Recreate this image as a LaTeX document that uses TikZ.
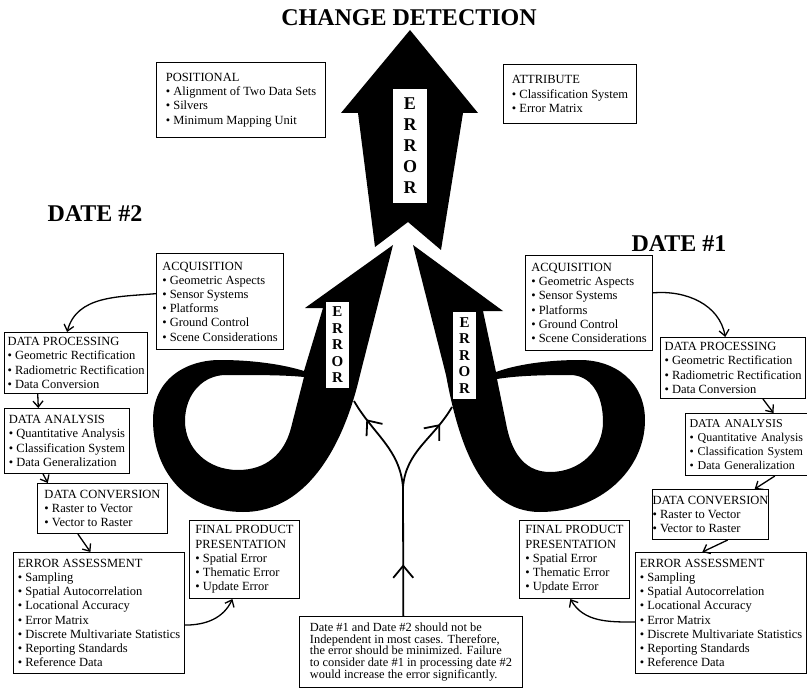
\documentclass[tikz,border=0pt]{standalone}
\usepackage{fontspec}
\setmainfont{Liberation Serif}
\usetikzlibrary{positioning, arrows.meta, decorations.markings}

\newcommand{\bult}{\textbullet\ }
\newcommand{\acqlist}{ACQUISITION\\ \bult Geometric Aspects\\ \bult Sensor Systems\\ \bult Platforms\\ \bult Ground Control\\ \bult Scene Considerations}
\newcommand{\proclist}{DATA PROCESSING\\ \bult Geometric Rectification\\ \bult Radiometric Rectification\\ \bult Data Conversion}
\newcommand{\analist}{DATA ANALYSIS\\ \bult Quantitative Analysis\\ \bult Classification System\\ \bult Data Generalization}
\newcommand{\convlist}{DATA CONVERSION\\ \bult Raster to Vector\\ \bult Vector to Raster}
\newcommand{\assesslist}{ERROR ASSESSMENT\\ \bult Sampling\\ \bult Spatial Autocorrelation\\ \bult Locational Accuracy\\ \bult Error Matrix\\ \bult Discrete Multivariate Statistics\\ \bult Reporting Standards\\ \bult Reference Data}
\newcommand{\finallist}{FINAL PRODUCT\\ PRESENTATION\\ \bult Spatial Error\\ \bult Thematic Error\\ \bult Update Error}

\begin{document}
\begin{tikzpicture}[x=1pt, y=-1pt,
    box/.style={rectangle, draw, line width=1pt, fill=white, align=left, anchor=north west, inner sep=0pt, font=\fontsize{12.5}{14.2}\selectfont},
    wh/.style 2 args={minimum width=#1, minimum height=#2},
    err/.style={rectangle, fill=white, inner sep=0pt, align=center},
    head/.style={font=\bfseries\fontsize{24}{24}\selectfont},
    conn/.style={line width=1.3pt, -{Straight Barb[length=6pt, width=10pt]}},
    flow/.style={line width=1.8pt},
    midarrow/.style={postaction={decorate}, decoration={markings, mark=at position #1 with {\arrow{Straight Barb[length=12pt, width=20pt]}}}},
]
    \useasboundingbox (0,0) rectangle (807,690);

    % Error arrows
    \fill (410,30) -- (478,113) -- (463,113) -- (441,250) -- (408,222) -- (375,247) -- (358,113) -- (341,113) -- cycle;

    \fill[even odd rule] (393,245) -- (360,375) .. controls (345,440) and (310,512) .. (243,512)
        .. controls (185,512) and (153,470) .. (153,420) .. controls (153,380) and (185,360) .. (220,360)
        .. controls (255,360) and (285,365) .. (304,371) -- (323,308) -- (305,308) -- cycle
        (304,377) -- (291,428) .. controls (284,455) and (265,470) .. (238,470)
        .. controls (207,470) and (185,448) .. (185,421) .. controls (185,394) and (203,375) .. (226,375)
        .. controls (258,375) and (285,375) .. (304,377) -- cycle;

    \fill[even odd rule] (413,245) -- (446,375) .. controls (458,440) and (480,512) .. (540,512)
        .. controls (600,512) and (645,470) .. (645,420) .. controls (645,382) and (615,360) .. (580,360)
        .. controls (545,360) and (515,365) .. (496,372) -- (483,311) -- (503,311) -- cycle
        (497,379) -- (507,428) .. controls (513,456) and (527,472) .. (550,472)
        .. controls (580,472) and (603,450) .. (603,422) .. controls (603,393) and (590,375) .. (570,375)
        .. controls (538,375) and (515,376) .. (497,379) -- cycle;

    \node[err, minimum width=34pt, minimum height=114pt, font=\bfseries\fontsize{18}{21}\selectfont] (errc) at (410,146) {E\\R\\R\\O\\R};
    \node[err, minimum width=23pt, minimum height=86pt, font=\bfseries\fontsize{15}{16.5}\selectfont] (err2) at (337.5,345) {E\\R\\R\\O\\R};
    \node[err, minimum width=23pt, minimum height=87pt, font=\bfseries\fontsize{15}{16.5}\selectfont] (err1) at (464.5,355.5) {E\\R\\R\\O\\R};

    % Headings
    \node[head] (chg) at (409,17.5) {CHANGE DETECTION};
    \node[head] (date2) at (95,213.5) {DATE \#2};
    \node[head] (date1) at (679,243.5) {DATE \#1};

    % Nodes
    \node[box, wh={169pt}{75pt}] (pos) at (156,62) {POSITIONAL\\ \bult Alignment of Two Data Sets\\ \bult Silvers\\ \bult Minimum Mapping Unit};
    \node[box, wh={133pt}{59pt}] (att) at (503,64) {ATTRIBUTE\\ \bult Classification System\\ \bult Error Matrix};

    \node[box, wh={127pt}{96pt}] (acq2) at (156,253) {\acqlist};
    \node[box, wh={143pt}{61pt}] (dp2) at (4,332) {\proclist};
    \node[box, wh={125pt}{65pt}] (da2) [below=14pt of dp2.south west, anchor=north west] {\analist};
    \node[box, wh={130pt}{50pt}] (dc2) at (37,483) {\convlist};
    \node[box, wh={171pt}{121pt}] (ea2) at (13,552) {\assesslist};
    \node[box, wh={110pt}{78pt}] (fp2) at (189,520) {\finallist};

    \node[box, wh={127pt}{95pt}] (acq1) at (525,255) {\acqlist};
    \node[box, wh={145pt}{61pt}] (dp1) at (660,337) {\proclist};
    \node[box, wh={148pt}{62pt}, text width=140pt, inner xsep=4pt, font=\fontsize{12}{14.2}\selectfont] (da1) at (685,413) {\analist};
    \node[box, wh={102pt}{50pt}] (dc1) at (652,489) {\convlist};
    \node[box, wh={171pt}{121pt}] (ea1) at (635,552) {\assesslist};
    \node[box, wh={110pt}{78pt}] (fp1) at (519,520) {\finallist};

    \node[box, wh={223pt}{71pt}, font=\fontsize{12.4}{11.9}\selectfont] (note) at (299,616) {Date \#1 and Date \#2 should not be\\ Independent in most cases.  Therefore,\\ the error should be minimized.  Failure\\ to consider date \#1 in processing date \#2\\ would increase the error significantly.};

    % Lines
    \draw[conn] (acq2.173) to[out=185, in=75] (dp2.106);
    \draw[conn] (dp2.219) -- (da2.131);
    \draw[conn] (da2.234) -- (dc2.155);
    \draw[conn] (dc2.226) -- (ea2.98);
    \draw[conn] (ea2.352) to[out=0, in=-115] (fp2.253);

    \draw[conn] (acq1.9) to[out=5, in=100] (dp1.104);
    \draw[conn] (dp1.314) -- (da1.66);
    \draw[conn] (da1.296) -- (dc1.30);
    \draw[conn] (dc1.304) -- (ea1.107);
    \draw[conn] (ea1.186) to[out=180, in=-60] (fp1.264);

    \coordinate (fork) at (403,487);
    \coordinate (lhit) at (354,401);
    \coordinate (rhit) at (452,407);
    \draw[flow, midarrow=0.4] (note.102) -- (fork);
    \draw[flow, midarrow=0.78] (fork) to[out=95, in=-60] (lhit);
    \draw[flow, midarrow=0.78] (fork) to[out=85, in=-120] (rhit);

\end{tikzpicture}
\end{document}
